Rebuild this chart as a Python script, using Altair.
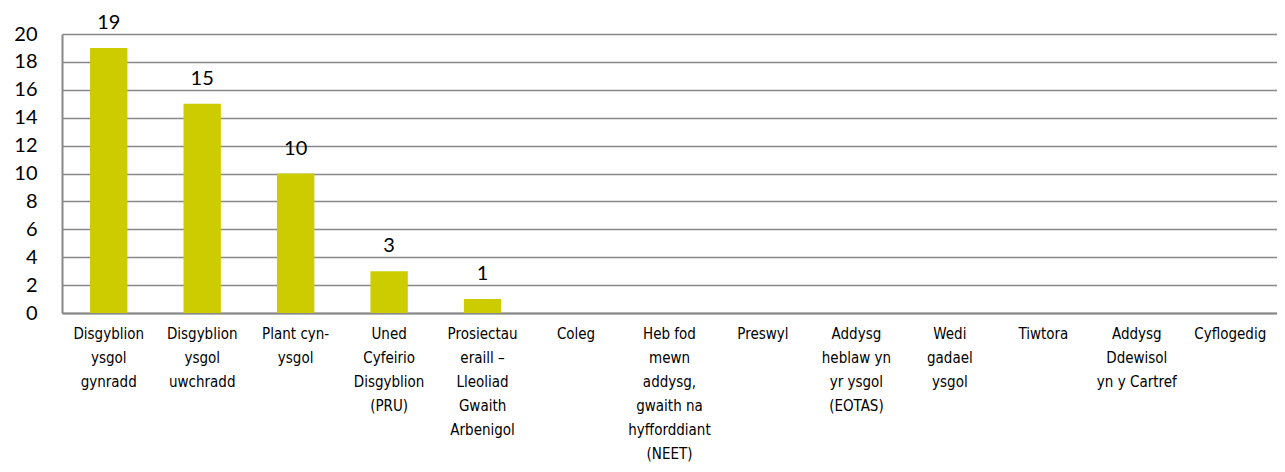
import altair as alt
import pandas as pd

categories = [
    "Disgyblion|ysgol|gynradd",
    "Disgyblion|ysgol|uwchradd",
    "Plant cyn-|ysgol",
    "Uned|Cyfeirio|Disgyblion|(PRU)",
    "Prosiectau|eraill –|Lleoliad|Gwaith|Arbenigol",
    "Coleg",
    "Heb fod|mewn|addysg,|gwaith na|hyfforddiant|(NEET)",
    "Preswyl",
    "Addysg|heblaw yn|yr ysgol|(EOTAS)",
    "Wedi|gadael|ysgol",
    "Tiwtora",
    "Addysg|Ddewisol|yn y Cartref",
    "Cyflogedig",
]
values = [19, 15, 10, 3, 1, 0, 0, 0, 0, 0, 0, 0, 0]
labels = ["19", "15", "10", "3", "1", "", "", "", "", "", "", "", ""]

df = pd.DataFrame({"cat": categories, "val": values, "lab": labels})

narrow = "'Liberation Sans Narrow', 'DejaVu Sans Condensed', 'Liberation Sans', sans-serif"

x = alt.X("cat:N", sort=categories, title=None,
          scale=alt.Scale(paddingInner=0.6, paddingOuter=0.3),
          axis=alt.Axis(labelAngle=0, labelExpr="split(datum.label, '|')",
                        labelFont=narrow, labelFontSize=15,
                        labelColor="#000000", labelLineHeight=24,
                        labelPadding=13, ticks=False, domainColor="#888888",
                        domainWidth=2, labelLimit=200, labelBaseline="top"))
y = alt.Y("val:Q", title=None,
          scale=alt.Scale(domain=[0, 20], nice=False),
          axis=alt.Axis(values=list(range(0, 21, 2)), ticks=False,
                        labelFont="Lato", labelFontSize=20, labelColor="#000000",
                        labelPadding=25, domainColor="#888888", domainWidth=2,
                        gridColor="#888888", gridWidth=1.5))

bars = alt.Chart(df).mark_bar(color="#CCCC00").encode(x=x, y=y)
text = alt.Chart(df).mark_text(font="Lato", fontSize=20, color="#000000",
                               baseline="bottom", dy=-15).encode(x=x, y=y, text="lab:N")

chart = (bars + text).properties(
    width=1215, height=279,
    autosize=alt.AutoSizeParams(type="none"),
    padding={"left": 54, "top": 26, "right": 0, "bottom": 152},
).configure_view(stroke=None)

chart.save("out.html", embed_options={"renderer": "svg", "actions": False})
